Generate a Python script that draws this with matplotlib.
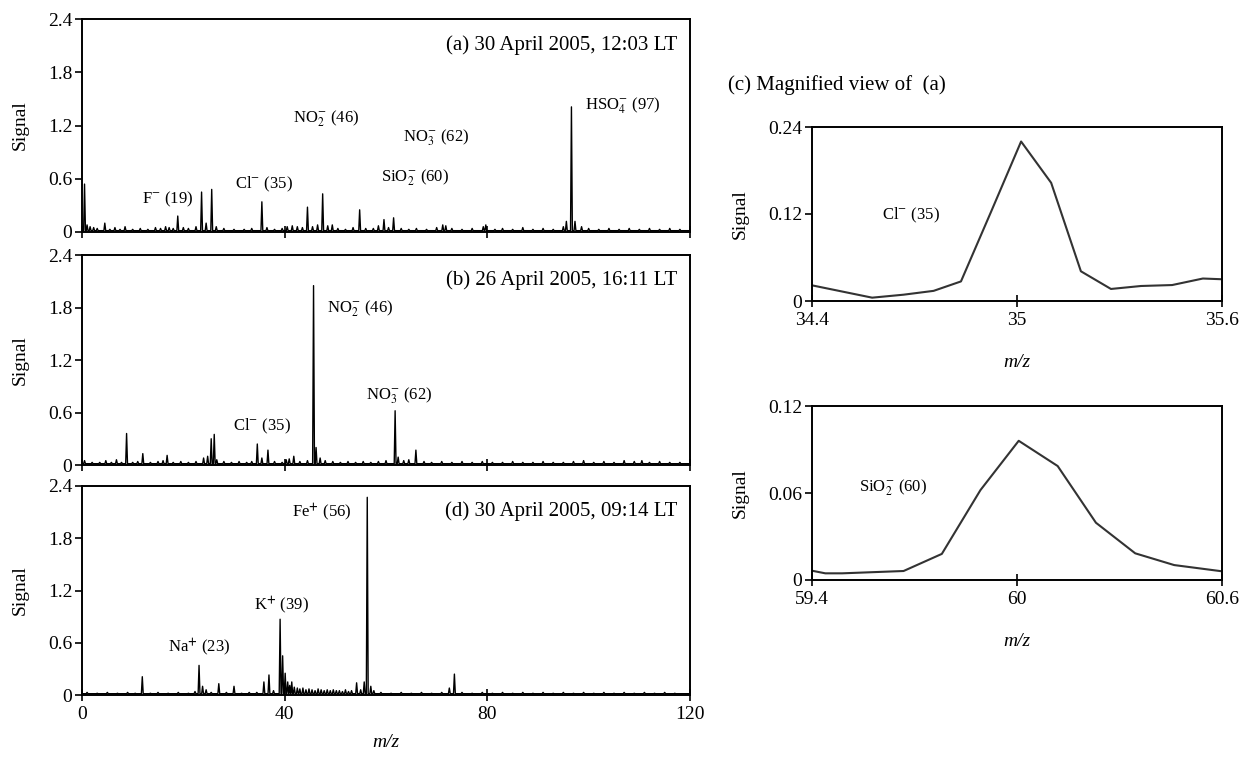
import matplotlib
matplotlib.use("Agg")
import matplotlib.pyplot as plt
import numpy as np

plt.rcParams['font.family'] = ['Liberation Serif', 'DejaVu Serif']
plt.rcParams['mathtext.fontset'] = 'stix'

# ---- spectra: peak positions (m/z) and heights (signal)
a_mz = [0.5, 1.0, 1.6, 2.3, 3.0, 4.5, 5.5, 6.5, 7.5, 8.5, 10.0, 11.5, 13.0, 14.5, 15.5,
        16.5, 17.2, 18.0, 18.9, 20.0, 21.0, 22.5, 23.6, 24.5, 25.6, 26.5, 28.0, 30.0,
        32.0, 33.5, 35.5, 36.5, 38.0, 39.5, 40.5, 41.5, 42.5, 43.5, 44.5, 45.5, 46.5,
        47.5, 48.5, 49.4, 50.5, 52.0, 53.5, 54.8, 56.0, 57.5, 58.5, 59.6, 60.5, 61.5,
        63.0, 64.5, 66.0, 68.0, 70.0, 71.2, 71.8, 73.0, 75.0, 77.0, 79.2, 79.7, 81.5,
        83.0, 85.0, 87.0, 89.0, 91.0, 93.0, 95.0, 95.6, 96.6, 97.3, 98.6, 100.0,
        102.0, 104.0, 106.0, 108.0, 110.0, 112.0, 114.0, 116.0, 118.0]
a_sig = [0.54, 0.08, 0.06, 0.05, 0.04, 0.10, 0.03, 0.05, 0.03, 0.06, 0.03, 0.04, 0.03,
         0.05, 0.04, 0.06, 0.05, 0.04, 0.18, 0.05, 0.04, 0.06, 0.45, 0.10, 0.48, 0.06,
         0.04, 0.03, 0.03, 0.04, 0.34, 0.05, 0.03, 0.04, 0.06, 0.07, 0.06, 0.05, 0.28,
         0.06, 0.08, 0.43, 0.07, 0.08, 0.04, 0.03, 0.05, 0.25, 0.04, 0.04, 0.07, 0.14,
         0.05, 0.16, 0.04, 0.03, 0.04, 0.03, 0.05, 0.08, 0.07, 0.04, 0.03, 0.04, 0.06,
         0.08, 0.03, 0.04, 0.03, 0.05, 0.03, 0.04, 0.03, 0.06, 0.12, 1.41, 0.12, 0.06,
         0.04, 0.03, 0.04, 0.03, 0.04, 0.03, 0.04, 0.03, 0.04, 0.03]

b_mz = [0.5, 2.0, 3.5, 4.7, 5.8, 6.8, 7.8, 8.8, 10.0, 11.0, 12.0, 13.5, 15.0, 16.0,
        16.8, 18.0, 19.5, 21.0, 22.5, 24.0, 24.8, 25.5, 26.1, 26.6, 28.0, 29.5, 31.0,
        32.5, 33.5, 34.6, 35.5, 36.7, 38.0, 39.5, 40.3, 40.9, 41.8, 43.0, 44.5, 45.7,
        46.2, 47.0, 48.0, 49.5, 51.0, 52.5, 54.0, 55.5, 57.0, 58.5, 60.0, 61.8, 62.4,
        63.5, 64.5, 65.9, 67.5, 69.0, 71.0, 73.0, 75.0, 77.0, 79.0, 81.0, 83.0, 85.0,
        87.0, 89.0, 91.0, 93.0, 95.0, 97.0, 99.0, 101.0, 103.0, 105.0, 107.0, 109.0,
        110.5, 112.0, 114.0, 116.0, 118.0]
b_sig = [0.05, 0.03, 0.03, 0.05, 0.03, 0.06, 0.03, 0.36, 0.03, 0.04, 0.13, 0.03, 0.04,
         0.05, 0.11, 0.03, 0.04, 0.03, 0.04, 0.08, 0.10, 0.30, 0.35, 0.06, 0.04, 0.03,
         0.04, 0.03, 0.04, 0.24, 0.08, 0.17, 0.04, 0.03, 0.06, 0.07, 0.10, 0.04, 0.05,
         2.05, 0.20, 0.08, 0.05, 0.04, 0.03, 0.04, 0.03, 0.04, 0.03, 0.04, 0.05, 0.62,
         0.09, 0.05, 0.06, 0.17, 0.04, 0.03, 0.04, 0.03, 0.04, 0.03, 0.04, 0.03, 0.03,
         0.04, 0.03, 0.03, 0.04, 0.03, 0.03, 0.04, 0.05, 0.03, 0.04, 0.03, 0.05, 0.04,
         0.05, 0.03, 0.04, 0.03, 0.03]

d_mz = [1.0, 3.0, 5.0, 7.0, 9.0, 10.5, 11.9, 13.5, 15.0, 17.0, 19.0, 21.0, 22.3, 23.1,
        23.8, 24.5, 25.5, 27.0, 28.5, 30.0, 31.5, 33.0, 34.5, 35.9, 36.9, 37.8, 39.1,
        39.6, 40.1, 40.6, 41.0, 41.4, 41.9, 42.5, 43.0, 43.6, 44.2, 44.8, 45.4, 46.0,
        46.6, 47.2, 47.8, 48.4, 49.0, 49.6, 50.2, 50.8, 51.4, 52.0, 52.6, 53.2, 54.2,
        55.0, 55.7, 56.3, 57.0, 57.6, 59.0, 61.0, 63.0, 65.0, 67.0, 69.0, 71.0, 72.5,
        73.5, 75.0, 77.0, 79.0, 81.0, 83.0, 85.0, 87.0, 89.0, 91.0, 93.0, 95.0, 97.0,
        99.0, 101.0, 103.0, 105.0, 107.0, 109.0, 111.0, 113.0, 115.0, 117.0]
d_sig = [0.03, 0.02, 0.03, 0.02, 0.03, 0.02, 0.21, 0.02, 0.03, 0.02, 0.03, 0.02, 0.04,
         0.34, 0.10, 0.06, 0.03, 0.13, 0.03, 0.10, 0.02, 0.03, 0.03, 0.15, 0.23, 0.05,
         0.87, 0.45, 0.25, 0.15, 0.11, 0.15, 0.09, 0.08, 0.07, 0.08, 0.06, 0.07, 0.06,
         0.05, 0.07, 0.06, 0.05, 0.06, 0.05, 0.06, 0.05, 0.05, 0.04, 0.06, 0.04, 0.05,
         0.14, 0.06, 0.15, 2.27, 0.10, 0.05, 0.03, 0.02, 0.03, 0.02, 0.03, 0.02, 0.03,
         0.08, 0.24, 0.03, 0.02, 0.03, 0.02, 0.03, 0.02, 0.03, 0.02, 0.03, 0.02, 0.03,
         0.02, 0.03, 0.02, 0.03, 0.02, 0.03, 0.02, 0.03, 0.02, 0.03, 0.02]

# ---- magnified views
c_mz = [34.4, 34.576, 34.668, 34.756, 34.836, 34.924, 35.012, 35.1, 35.187, 35.275,
        35.363, 35.454, 35.544, 35.6]
c_sig = [0.0216, 0.0046, 0.0087, 0.014, 0.027, 0.123, 0.22, 0.163, 0.041, 0.0166,
         0.0207, 0.022, 0.031, 0.030]

e_mz = [59.4, 59.439, 59.488, 59.668, 59.78, 59.893, 60.005, 60.119, 60.231, 60.346,
        60.46, 60.6]
e_sig = [0.0064, 0.0046, 0.0046, 0.0062, 0.018, 0.062, 0.096, 0.0786, 0.0395, 0.0184,
         0.0103, 0.006]

spec_ticks = [0, 40, 80, 120]
sig_ticks = [0, 0.6, 1.2, 1.8, 2.4]
sig_labels = ['0', '0.6', '1.2', '1.8', '2.4']


def stick_trace(mz, sig, base=0.015, w=0.18):
    xs, ys = [0.0], [base]
    for m, s in zip(mz, sig):
        xs += [m - w, m, m + w]
        ys += [base, s, base]
    xs.append(120.0)
    ys.append(base)
    return xs, ys


W, H = 1246, 757
fig = plt.figure(figsize=(W / 100, H / 100), dpi=100)


def px_axes(x0, y0, x1, y1):
    return fig.add_axes([x0 / W, 1 - y1 / H, (x1 - x0) / W, (y1 - y0) / H])


def style(ax):
    for sp in ax.spines.values():
        sp.set_linewidth(1.4)
    ax.tick_params(axis='y', direction='out', length=5, width=1.2, labelsize=14, pad=2)
    ax.tick_params(axis='x', direction='inout', length=8, width=1.2, labelsize=14, pad=4)


panels = [
    (px_axes(82, 19, 690, 232), a_mz, a_sig, '(a) 30 April 2005, 12:03 LT'),
    (px_axes(82, 255, 690, 465), b_mz, b_sig, '(b) 26 April 2005, 16:11 LT'),
    (px_axes(82, 486, 690, 695), d_mz, d_sig, '(d) 30 April 2005, 09:14 LT'),
]
for i, (ax, mz, sig, title) in enumerate(panels):
    xs, ys = stick_trace(mz, sig)
    ax.plot(xs, ys, color='black', lw=1.0)
    ax.set_xlim(0, 120)
    ax.set_ylim(0, 2.4)
    ax.set_xticks(spec_ticks)
    ax.set_yticks(sig_ticks)
    ax.set_yticklabels(sig_labels)
    style(ax)
    if i < 2:
        ax.set_xticklabels([])
    ax.set_ylabel('Signal', fontsize=14, labelpad=14)
    ax.text(117.5, 2.11, title, ha='right', va='center', fontsize=15)

ax_a, ax_b, ax_d = [p[0] for p in panels]
fs = 12
ax_a.text(17, 0.37, r'F$^{-}$ (19)', ha='center', va='center', fontsize=fs)
ax_a.text(35.9, 0.54, r'Cl$^{-}$ (35)', ha='center', va='center', fontsize=fs)
ax_a.text(48.2, 1.28, r'NO$_2^{-}$ (46)', ha='center', va='center', fontsize=fs)
ax_a.text(69.8, 1.06, r'NO$_3^{-}$ (62)', ha='center', va='center', fontsize=fs)
ax_a.text(65.7, 0.61, r'SiO$_2^{-}$ (60)', ha='center', va='center', fontsize=fs)
ax_a.text(106.8, 1.42, r'HSO$_4^{-}$ (97)', ha='center', va='center', fontsize=fs)

ax_b.text(54.8, 1.79, r'NO$_2^{-}$ (46)', ha='center', va='center', fontsize=fs)
ax_b.text(62.5, 0.79, r'NO$_3^{-}$ (62)', ha='center', va='center', fontsize=fs)
ax_b.text(35.5, 0.44, r'Cl$^{-}$ (35)', ha='center', va='center', fontsize=fs)

ax_d.text(47.3, 2.1, r'Fe$^{\mathbf{+}}$ (56)', ha='center', va='center', fontsize=fs)
ax_d.text(39.3, 1.03, r'K$^{\mathbf{+}}$ (39)', ha='center', va='center', fontsize=fs)
ax_d.text(23.1, 0.55, r'Na$^{\mathbf{+}}$ (23)', ha='center', va='center', fontsize=fs)
ax_d.set_xlabel('m/z', fontsize=14, style='italic', labelpad=8)

# ---- magnified panels
ax_c = px_axes(812, 127, 1222, 301)
ax_c.plot(c_mz, c_sig, color='#333333', lw=1.5)
ax_c.set_xlim(34.4, 35.6)
ax_c.set_ylim(0, 0.24)
ax_c.set_xticks([34.4, 35, 35.6])
ax_c.set_xticklabels(['34.4', '35', '35.6'])
ax_c.set_yticks([0, 0.12, 0.24])
ax_c.set_yticklabels(['0', '0.12', '0.24'])
style(ax_c)
ax_c.set_ylabel('Signal', fontsize=14, labelpad=14)
ax_c.set_xlabel('m/z', fontsize=14, style='italic', labelpad=18)
ax_c.text(34.69, 0.118, r'Cl$^{-}$ (35)', ha='center', va='center', fontsize=fs)

ax_e = px_axes(812, 406, 1222, 580)
ax_e.plot(e_mz, e_sig, color='#333333', lw=1.5)
ax_e.set_xlim(59.4, 60.6)
ax_e.set_ylim(0, 0.12)
ax_e.set_xticks([59.4, 60, 60.6])
ax_e.set_xticklabels(['59.4', '60', '60.6'])
ax_e.set_yticks([0, 0.06, 0.12])
ax_e.set_yticklabels(['0', '0.06', '0.12'])
style(ax_e)
ax_e.set_ylabel('Signal', fontsize=14, labelpad=14)
ax_e.set_xlabel('m/z', fontsize=14, style='italic', labelpad=18)
ax_e.text(59.636, 0.064, r'SiO$_2^{-}$ (60)', ha='center', va='center', fontsize=fs)

fig.text(728 / W, 1 - 85 / H, '(c) Magnified view of  (a)', ha='left', va='center',
         fontsize=15)

fig.savefig('out.png', dpi=100)
